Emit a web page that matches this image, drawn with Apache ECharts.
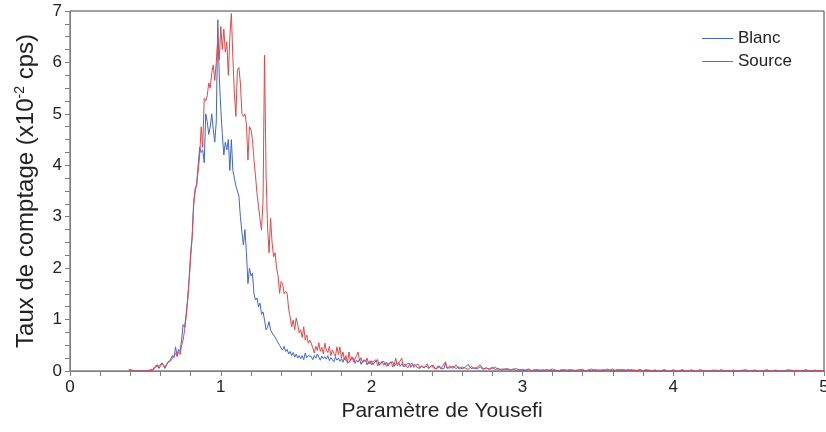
<!DOCTYPE html>
<html>
<head>
<meta charset="utf-8">
<script src="https://cdn.jsdelivr.net/npm/echarts@6/dist/echarts.min.js"></script>
<style>
html,body{margin:0;padding:0;background:#fff;}
#chart{width:826px;height:432px;}
</style>
</head>
<body>
<div id="chart"></div>
<script>
// Dense sampling grid: 0.39 .. 2.50 step 0.01 ; tail grid: 2.52 .. 5.00 step 0.02
const denseStart = 0.39, denseStep = 0.01;
const tailStart = 2.52, tailStep = 0.02;

const blancDense = [
  0.03,0.00,0.02,0.00,0.00,0.01,0.00,0.00,0.00,0.00,
  0.00,0.01,0.00,0.00,0.02,0.05,0.03,0.08,0.06,0.12,
  0.05,0.10,0.16,0.10,0.05,0.12,0.15,0.20,0.18,0.30,
  0.26,0.47,0.30,0.42,0.38,0.60,0.90,0.85,1.10,1.40,
  1.80,2.30,2.60,3.30,3.50,3.65,4.00,4.35,4.25,4.30,
  4.05,5.00,4.85,4.60,4.75,5.00,4.70,4.45,4.85,6.83,
  5.70,5.10,4.60,4.20,4.45,4.30,4.50,3.90,4.50,3.90,
  3.75,3.60,3.50,3.40,3.00,2.70,2.45,2.75,2.30,1.70,
  2.00,1.85,1.90,1.50,1.38,1.42,1.25,1.32,1.10,1.15,
  0.99,0.80,0.85,0.96,0.80,0.74,0.70,0.66,0.60,0.62,
  0.50,0.45,0.41,0.48,0.38,0.42,0.33,0.38,0.30,0.36,
  0.27,0.33,0.25,0.30,0.24,0.30,0.22,0.35,0.26,0.30,
  0.32,0.28,0.22,0.30,0.25,0.33,0.27,0.21,0.29,0.24,
  0.28,0.23,0.30,0.20,0.26,0.22,0.18,0.27,0.21,0.25,
  0.19,0.24,0.17,0.26,0.20,0.23,0.16,0.22,0.19,0.25,
  0.15,0.21,0.17,0.23,0.13,0.19,0.16,0.21,0.12,0.18,
  0.14,0.20,0.12,0.17,0.15,0.22,0.11,0.16,0.14,0.19,
  0.12,0.17,0.10,0.15,0.13,0.18,0.09,0.14,0.12,0.16,
  0.09,0.14,0.11,0.08,0.13,0.10,0.15,0.07,0.12,0.09,
  0.12,0.07,0.10,0.05,0.09,0.11,0.06,0.10,0.08,0.05,
  0.09,0.07,0.11,0.05,0.08,0.06,0.10,0.04,0.07,0.05,
  0.15,0.06
];
const blancTail = [
  0.06,0.09,0.05,0.08,0.04,0.07,0.13,0.05,0.06,0.04,
  0.08,0.03,0.06,0.04,0.07,0.03,0.05,0.02,0.04,0.03,
  0.02,0.04,0.01,0.03,0.02,0.00,0.03,0.01,0.02,0.00,
  0.02,0.00,0.03,0.01,0.00,0.02,0.00,0.01,0.03,0.00,
  0.01,0.02,0.00,0.03,0.01,0.00,0.02,0.00,0.03,0.01,
  0.02,0.00,0.04,0.01,0.00,0.02,0.03,0.00,0.01,0.03,
  0.00,0.02,0.01,0.03,0.00,0.01,0.02,0.00,0.01,0.00,
  0.00,0.01,0.00,0.00,0.02,0.00,0.00,0.01,0.00,0.00,
  0.02,0.00,0.00,0.00,0.01,0.00,0.00,0.00,0.02,0.00,
  0.00,0.00,0.01,0.00,0.00,0.00,0.00,0.02,0.00,0.00,
  0.00,0.01,0.00,0.00,0.00,0.00,0.00,0.00,0.01,0.00,
  0.00,0.00,0.00,0.02,0.00,0.00,0.00,0.00,0.00,0.01,
  0.00,0.00,0.00,0.00,0.00
];
const sourceDense = [
  0.02,0.00,0.00,0.01,0.00,0.00,0.00,0.00,0.00,0.00,
  0.00,0.00,0.01,0.00,0.00,0.03,0.02,0.04,0.08,0.05,
  0.10,0.08,0.15,0.12,0.08,0.10,0.18,0.15,0.20,0.25,
  0.22,0.35,0.28,0.38,0.32,0.50,0.60,0.80,1.05,1.35,
  1.75,2.20,2.60,3.20,3.55,3.60,3.90,4.20,4.75,4.35,
  5.30,5.25,5.35,5.60,5.50,5.80,5.95,5.65,6.00,6.45,
  6.05,6.70,6.25,6.65,6.20,6.40,5.75,6.50,6.95,6.10,
  5.40,4.95,5.85,5.90,5.60,5.00,4.95,5.00,4.80,4.10,
  4.75,4.70,4.50,4.10,3.80,3.45,3.20,2.95,2.74,3.30,
  6.14,3.85,2.80,2.30,2.97,2.50,2.22,2.30,2.00,1.85,
  1.51,1.74,1.70,1.50,1.55,1.51,1.20,1.05,0.86,0.99,
  0.80,1.03,0.90,0.74,0.80,0.65,0.86,0.60,0.70,0.54,
  0.60,0.54,0.45,0.35,0.48,0.40,0.55,0.38,0.46,0.33,
  0.54,0.40,0.36,0.48,0.30,0.41,0.34,0.28,0.47,0.32,
  0.47,0.25,0.37,0.22,0.30,0.15,0.37,0.20,0.28,0.18,
  0.24,0.30,0.37,0.20,0.26,0.16,0.22,0.18,0.25,0.14,
  0.20,0.12,0.18,0.15,0.22,0.10,0.17,0.13,0.19,0.11,
  0.16,0.09,0.14,0.12,0.18,0.08,0.13,0.25,0.10,0.15,
  0.12,0.25,0.08,0.14,0.10,0.06,0.12,0.09,0.15,0.07,
  0.11,0.08,0.13,0.06,0.10,0.12,0.07,0.09,0.14,0.05,
  0.08,0.11,0.06,0.09,0.04,0.10,0.07,0.05,0.09,0.06,
  0.18,0.05
];
const sourceTail = [
  0.10,0.05,0.12,0.04,0.08,0.06,0.03,0.09,0.05,0.07,
  0.12,0.04,0.06,0.03,0.05,0.08,0.02,0.04,0.03,0.05,
  0.02,0.03,0.05,0.01,0.03,0.02,0.04,0.00,0.02,0.03,
  0.01,0.03,0.00,0.02,0.04,0.01,0.00,0.03,0.01,0.02,
  0.03,0.00,0.02,0.01,0.03,0.00,0.02,0.04,0.00,0.02,
  0.01,0.03,0.00,0.02,0.04,0.00,0.01,0.03,0.02,0.00,
  0.03,0.01,0.00,0.02,0.00,0.03,0.00,0.01,0.02,0.00,
  0.00,0.03,0.00,0.00,0.02,0.00,0.00,0.03,0.00,0.00,
  0.02,0.00,0.00,0.03,0.00,0.00,0.00,0.02,0.00,0.00,
  0.03,0.00,0.00,0.00,0.02,0.00,0.00,0.00,0.03,0.00,
  0.00,0.02,0.00,0.00,0.00,0.03,0.00,0.00,0.02,0.00,
  0.00,0.00,0.03,0.00,0.00,0.02,0.00,0.00,0.03,0.00,
  0.00,0.02,0.00,0.00,0.00
];

const seriesNames = ['Blanc', 'Source'];
const xTicks = [0, 1, 2, 3, 4, 5];
const yTicks = [0, 1, 2, 3, 4, 5, 6, 7];

function buildPairs(dense, tail) {
  const out = [];
  dense.forEach((v, i) => out.push([+(denseStart + i * denseStep).toFixed(2), v]));
  tail.forEach((v, i) => out.push([+(tailStart + i * tailStep).toFixed(2), v]));
  return out;
}

const chart = echarts.init(document.getElementById('chart'), null, {renderer: 'canvas'});
const FONT = '"Liberation Sans", Arial, sans-serif';
const axisGray = '#808080';
const blue = '#4264d2';
const red = '#e04848';

chart.setOption({
  animation: false,
  backgroundColor: '#ffffff',
  textStyle: {fontFamily: FONT},
  grid: {
    left: 70, right: 2, top: 11, bottom: 61,
    outerBoundsMode: 'none',
    containLabel: false,
    show: true, borderColor: '#444', borderWidth: 1, backgroundColor: 'transparent'
  },
  legend: {
    orient: 'vertical',
    left: 697, top: 25,
    icon: 'rect',
    itemWidth: 31, itemHeight: 1, itemGap: 6,
    textStyle: {fontFamily: FONT, fontSize: 17, color: '#222', lineHeight: 16},
    data: [
      {name: seriesNames[0], itemStyle: {color: blue}},
      {name: seriesNames[1], itemStyle: {color: red}}
    ]
  },
  xAxis: {
    type: 'value',
    min: xTicks[0], max: xTicks[xTicks.length - 1], interval: 1,
    name: 'Paramètre de Yousefi',
    nameLocation: 'middle', nameGap: 30,
    nameTextStyle: {fontFamily: FONT, fontSize: 21, color: '#222', padding: [0, 10, 0, 0]},
    axisLine: {show: true, lineStyle: {color: axisGray, width: 1}},
    axisTick: {show: true, length: 5, lineStyle: {color: axisGray}},
    minorTick: {show: true, splitNumber: 5, length: 5, lineStyle: {color: axisGray}},
    axisLabel: {fontFamily: FONT, fontSize: 17, color: '#222', margin: 8},
    splitLine: {show: false}
  },
  yAxis: {
    type: 'value',
    min: yTicks[0], max: yTicks[yTicks.length - 1], interval: 1,
    name: '{a|Taux de comptage (x10}{s|-2}{a| cps)}',
    nameLocation: 'middle', nameGap: 30,
    nameTextStyle: {
      fontFamily: FONT, fontSize: 24, color: '#222',
      rich: {
        a: {fontFamily: FONT, fontSize: 24, color: '#222', lineHeight: 27},
        s: {fontFamily: FONT, fontSize: 14, color: '#222', lineHeight: 15, verticalAlign: 'top'}
      }
    },
    axisLine: {show: true, lineStyle: {color: axisGray, width: 1}},
    axisTick: {show: true, length: 5, lineStyle: {color: axisGray}},
    minorTick: {show: true, splitNumber: 4, length: 5, lineStyle: {color: axisGray}},
    axisLabel: {fontFamily: FONT, fontSize: 17, color: '#222', margin: 8},
    splitLine: {show: false}
  },
  series: [
    {
      name: seriesNames[0], type: 'line', symbol: 'none', showSymbol: false,
      data: buildPairs(blancDense, blancTail),
      lineStyle: {color: blue, width: 1},
      itemStyle: {color: blue},
      z: 2
    },
    {
      name: seriesNames[1], type: 'line', symbol: 'none', showSymbol: false,
      data: buildPairs(sourceDense, sourceTail),
      lineStyle: {color: red, width: 1},
      itemStyle: {color: red},
      z: 3
    }
  ]
});
</script>
</body>
</html>
